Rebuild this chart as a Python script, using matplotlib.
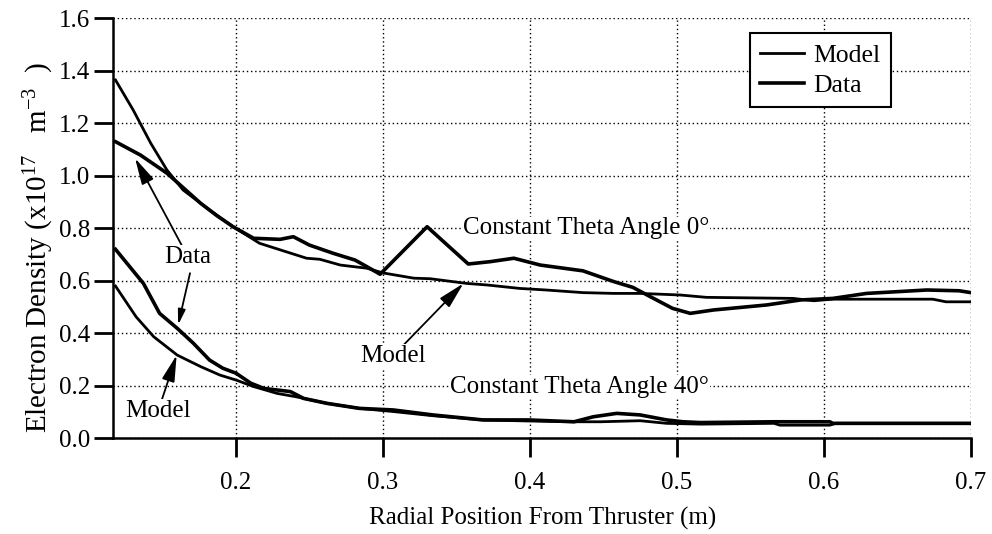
import matplotlib
matplotlib.use("Agg")
import matplotlib.pyplot as plt

plt.rcParams['font.family'] = ['Liberation Serif', 'DejaVu Serif']
plt.rcParams['mathtext.fontset'] = 'custom'
plt.rcParams['mathtext.rm'] = 'Liberation Serif'
plt.rcParams['mathtext.it'] = 'Liberation Serif:italic'

# theta = 0 deg
model0_x = [0.118, 0.130, 0.142, 0.153, 0.164, 0.176, 0.187, 0.198, 0.216, 0.230,
            0.248, 0.257, 0.271, 0.289, 0.300, 0.321, 0.332, 0.357, 0.371, 0.393,
            0.411, 0.436, 0.457, 0.475, 0.502, 0.520, 0.579, 0.593, 0.606, 0.674,
            0.683, 0.700]
model0_y = [1.365, 1.251, 1.124, 1.022, 0.946, 0.895, 0.850, 0.806, 0.743, 0.718,
            0.686, 0.682, 0.660, 0.648, 0.630, 0.610, 0.608, 0.590, 0.584, 0.571,
            0.565, 0.555, 0.552, 0.552, 0.546, 0.537, 0.533, 0.524, 0.530, 0.530,
            0.520, 0.520]
data0_x = [0.118, 0.135, 0.153, 0.164, 0.176, 0.187, 0.198, 0.212, 0.230, 0.239,
           0.250, 0.266, 0.281, 0.289, 0.298, 0.330, 0.358, 0.373, 0.389, 0.407,
           0.436, 0.457, 0.470, 0.482, 0.497, 0.509, 0.525, 0.561, 0.584, 0.606,
           0.629, 0.670, 0.692, 0.700]
data0_y = [1.130, 1.079, 1.010, 0.955, 0.895, 0.848, 0.806, 0.762, 0.758, 0.768,
           0.736, 0.705, 0.679, 0.654, 0.625, 0.806, 0.664, 0.673, 0.686, 0.660,
           0.638, 0.597, 0.575, 0.539, 0.495, 0.476, 0.489, 0.508, 0.527, 0.533,
           0.552, 0.565, 0.562, 0.555]

# theta = 40 deg
model40_x = [0.118, 0.132, 0.144, 0.160, 0.176, 0.189, 0.200, 0.212, 0.228, 0.241,
             0.262, 0.284, 0.307, 0.334, 0.368, 0.399, 0.430, 0.448, 0.475, 0.493,
             0.516, 0.566, 0.570, 0.604, 0.608, 0.700]
model40_y = [0.580, 0.463, 0.387, 0.317, 0.273, 0.241, 0.222, 0.197, 0.171, 0.158,
             0.133, 0.114, 0.102, 0.086, 0.070, 0.066, 0.063, 0.063, 0.067, 0.057,
             0.054, 0.057, 0.050, 0.050, 0.057, 0.057]
data40_x = [0.118, 0.137, 0.148, 0.160, 0.171, 0.182, 0.191, 0.200, 0.210, 0.219,
            0.237, 0.246, 0.262, 0.284, 0.307, 0.334, 0.368, 0.399, 0.430, 0.443,
            0.459, 0.475, 0.493, 0.504, 0.516, 0.566, 0.604, 0.606, 0.700]
data40_y = [0.720, 0.590, 0.476, 0.419, 0.362, 0.298, 0.267, 0.248, 0.210, 0.190,
            0.178, 0.152, 0.133, 0.114, 0.108, 0.089, 0.070, 0.070, 0.063, 0.082,
            0.095, 0.089, 0.070, 0.063, 0.060, 0.063, 0.063, 0.057, 0.057]

x_ticks = [0.2, 0.3, 0.4, 0.5, 0.6, 0.7]
y_ticks = [0.0, 0.2, 0.4, 0.6, 0.8, 1.0, 1.2, 1.4, 1.6]

fig = plt.figure(figsize=(9.92, 5.34), dpi=100)
ax = fig.add_axes([0.1142, 0.1792, 0.8646, 0.7865])

ax.plot(model0_x, model0_y, color='black', lw=2.0, label='Model')
ax.plot(data0_x, data0_y, color='black', lw=2.6, label='Data')
ax.plot(model40_x, model40_y, color='black', lw=2.0)
ax.plot(data40_x, data40_y, color='black', lw=2.6)

ax.set_xlim(0.1165, 0.7)
ax.set_ylim(0.0, 1.6)
ax.set_xticks(x_ticks)
ax.set_xticklabels([f'{t:.1f}' for t in x_ticks])
ax.set_yticks(y_ticks)
ax.set_yticklabels([f'{t:.1f}' for t in y_ticks])
ax.tick_params(direction='out', length=13.5, width=2.0, labelsize=18, color='black')
ax.tick_params(axis='x', pad=11)
ax.tick_params(axis='y', pad=3)

ax.grid(True, color='black', linestyle=(0, (1, 2)), lw=1.0)
for side in ('top', 'right'):
    ax.spines[side].set_visible(False)
for side in ('left', 'bottom'):
    ax.spines[side].set_linewidth(1.8)

ax.set_xlabel('Radial Position From Thruster (m)', fontsize=18, labelpad=9)
ax.set_ylabel(r'Electron Density (x10$^{17}$   m$^{-3}$  )', fontsize=21)
ax.yaxis.set_label_coords(-0.067, 0.455)

white = dict(facecolor='white', edgecolor='none', pad=0.5)
ax.text(0.3546, 0.80, 'Constant Theta Angle 0°', fontsize=18, ha='left', va='center', bbox=white)
ax.text(0.3456, 0.197, 'Constant Theta Angle 40°', fontsize=18, ha='left', va='center', bbox=white)

arrow = dict(arrowstyle='-|>,head_length=0.9,head_width=0.22', color='black', lw=1.3,
             shrinkA=0, shrinkB=0)
ax.annotate('Data', xy=(0.1313, 1.067), xytext=(0.1673, 0.691), fontsize=18,
            ha='center', va='center', arrowprops=arrow, bbox=white)
ax.annotate('', xy=(0.1606, 0.432), xytext=(0.1687, 0.629), arrowprops=arrow)
ax.annotate('Model', xy=(0.3547, 0.590), xytext=(0.3068, 0.314), fontsize=18,
            ha='center', va='center', arrowprops=arrow, bbox=white)
ax.annotate('Model', xy=(0.1596, 0.317), xytext=(0.147, 0.104), fontsize=18,
            ha='center', va='center', arrowprops=arrow, bbox=white)

leg = ax.legend(loc='upper left', bbox_to_anchor=(0.742, 0.964), borderaxespad=0,
                fontsize=18.5, frameon=True, fancybox=False, handlelength=1.7,
                handletextpad=0.35, labelspacing=0.25, borderpad=0.42)
leg.get_frame().set_edgecolor('black')
leg.get_frame().set_linewidth(1.5)
leg.get_frame().set_alpha(1.0)

fig.savefig('out.png', dpi=100)
